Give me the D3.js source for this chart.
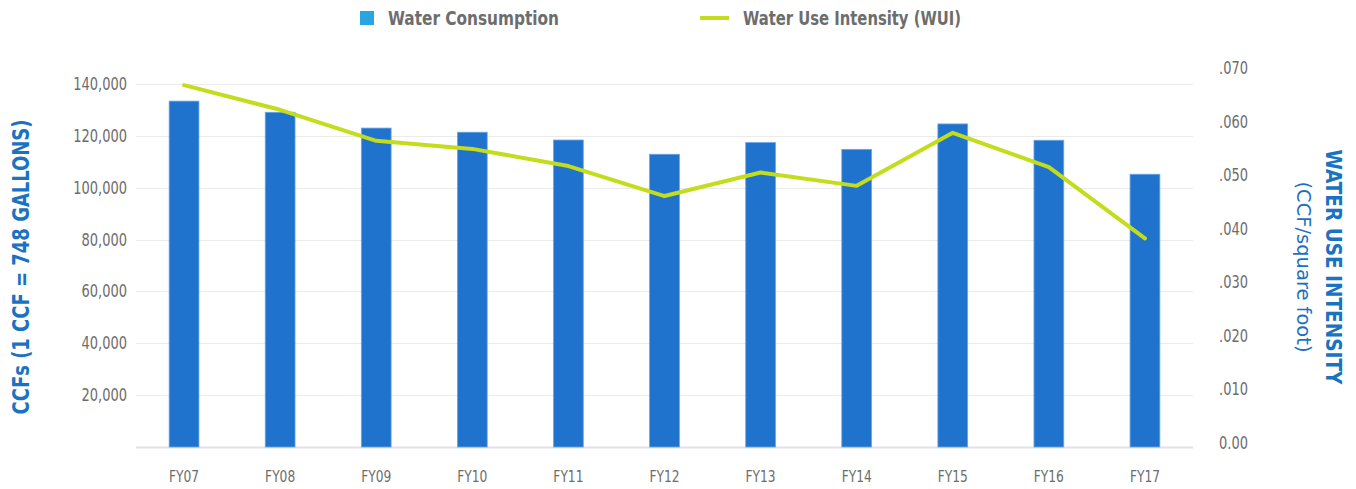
<!DOCTYPE html>
<html>
<head>
<meta charset="utf-8">
<script src="https://cdn.jsdelivr.net/npm/d3@7"></script>
<style>
  body { margin: 0; background: #fff; }
  text { font-family: "DejaVu Sans Condensed", "Liberation Sans", sans-serif; }
</style>
</head>
<body>
<div id="chart"></div>
<script>
// water consumption vs WUI

var years = ["FY07", "FY08", "FY09", "FY10", "FY11", "FY12", "FY13", "FY14", "FY15", "FY16", "FY17"]
var consumption = [133400, 129100, 123000, 121400, 118400, 112900, 117400, 114800, 124600, 118300, 105200]
var wui = [0.0668, 0.0622, 0.0564, 0.0549, 0.0517, 0.0461, 0.0505, 0.0480, 0.0579, 0.0515, 0.0382]

var leftTicks = [0, 20000, 40000, 60000, 80000, 100000, 120000, 140000]
var leftTickLabels = ["", "20,000", "40,000", "60,000", "80,000", "100,000", "120,000", "140,000"]
var rightTicks = [0, 0.01, 0.02, 0.03, 0.04, 0.05, 0.06, 0.07]
var rightTickLabels = ["0.00", ".010", ".020", ".030", ".040", ".050", ".060", ".070"]

var width = 1356
var height = 489

// squeeze text horizontally so it looks like the condensed face in the original
function condense(sel, f) {
    sel.each(function () {
        let len = this.getComputedTextLength()
        if (len > 0) {
            d3.select(this)
                .attr("textLength", len * f)
                .attr("lengthAdjust", "spacingAndGlyphs")
        }
    })
}

function fitTo(sel, len) {
    sel.attr("textLength", len).attr("lengthAdjust", "spacingAndGlyphs")
}

var svg = d3.select("#chart")
    .append("svg")
    .attr("width", width)
    .attr("height", height)

var x = d3.scaleBand()
    .domain(years)
    .range([136, 1193])
    .paddingInner(0.69)
    .paddingOuter(0.345)

var y = d3.scaleLinear().domain([0, 140000]).range([447, 84])
var yR = d3.scaleLinear().domain([0, 0.07]).range([443, 68])

// gridlines
svg.append("g")
    .selectAll("line")
    .data(leftTicks)
    .enter()
    .append("line")
    .attr("x1", 136)
    .attr("x2", 1193)
    .attr("y1", d => Math.round(y(d)) + 0.5)
    .attr("y2", d => Math.round(y(d)) + 0.5)
    .attr("stroke", d => d == 0 ? "#e2e2e2" : "#ebebeb")
    .attr("stroke-width", d => d == 0 ? 2 : 1)

// left tick labels
svg.append("g")
    .selectAll("text")
    .data(leftTicks)
    .enter()
    .append("text")
    .attr("x", 127)
    .attr("y", d => y(d))
    .attr("dy", "0.35em")
    .attr("text-anchor", "end")
    .attr("fill", "#6d6d6d")
    .style("font-size", "17px")
    .text((d, i) => leftTickLabels[i])
    .call(condense, 0.85)

// right tick labels
svg.append("g")
    .selectAll("text")
    .data(rightTicks)
    .enter()
    .append("text")
    .attr("x", 1219)
    .attr("y", d => yR(d))
    .attr("dy", "0.35em")
    .attr("fill", "#6d6d6d")
    .style("font-size", "17px")
    .text((d, i) => rightTickLabels[i])
    .call(condense, 0.85)

// bars
svg.append("g")
    .selectAll("rect")
    .data(consumption)
    .enter()
    .append("rect")
    .attr("x", (d, i) => x(years[i]))
    .attr("y", d => y(d))
    .attr("width", x.bandwidth())
    .attr("height", d => y(0) - y(d))
    .attr("fill", "#2073cc")
    .attr("stroke", "#6aa6e6")
    .attr("stroke-width", 0.8)

// x labels
svg.append("g")
    .selectAll("text")
    .data(years)
    .enter()
    .append("text")
    .attr("x", d => x(d) + x.bandwidth() / 2)
    .attr("y", 476)
    .attr("dy", "0.35em")
    .attr("text-anchor", "middle")
    .attr("fill", "#6d6d6d")
    .style("font-size", "16px")
    .text(d => d)
    .call(condense, 0.85)

// WUI line
var line = d3.line()
    .x((d, i) => x(years[i]) + x.bandwidth() / 2)
    .y(d => yR(d))

svg.append("path")
    .datum(wui)
    .attr("d", line)
    .attr("fill", "none")
    .attr("stroke", "#c3dc1b")
    .attr("stroke-width", 4)
    .attr("stroke-linejoin", "round")
    .attr("stroke-linecap", "round")

// axis titles
svg.append("text")
    .attr("transform", "translate(29,267) rotate(-90)")
    .attr("text-anchor", "middle")
    .attr("fill", "#1a72c2")
    .style("font-size", "23px")
    .style("font-weight", "bold")
    .text("CCFs (1 CCF = 748 GALLONS)")
    .call(fitTo, 295)

svg.append("text")
    .attr("transform", "translate(1326,267) rotate(90)")
    .attr("text-anchor", "middle")
    .attr("fill", "#1a72c2")
    .style("font-size", "22px")
    .style("font-weight", "bold")
    .text("WATER USE INTENSITY")
    .call(fitTo, 235)

svg.append("text")
    .attr("transform", "translate(1297,267) rotate(90)")
    .attr("text-anchor", "middle")
    .attr("fill", "#1a72c2")
    .style("font-size", "20px")
    .text("(CCF/square foot)")
    .call(fitTo, 171)

// legend
const legend = svg.append("g")

legend.append("rect")
    .attr("x", 360)
    .attr("y", 11)
    .attr("width", 14)
    .attr("height", 14)
    .attr("fill", "#29a6e2")

legend.append("text")
    .attr("x", 388)
    .attr("y", 18)
    .attr("dy", "0.35em")
    .attr("fill", "#6d6d6d")
    .style("font-size", "19px")
    .style("font-weight", "bold")
    .text("Water Consumption")
    .call(fitTo, 171)

legend.append("line")
    .attr("x1", 700)
    .attr("x2", 729)
    .attr("y1", 18)
    .attr("y2", 18)
    .attr("stroke", "#c3dc1b")
    .attr("stroke-width", 4)

legend.append("text")
    .attr("x", 743)
    .attr("y", 18)
    .attr("dy", "0.35em")
    .attr("fill", "#6d6d6d")
    .style("font-size", "19px")
    .style("font-weight", "bold")
    .text("Water Use Intensity (WUI)")
    .call(fitTo, 218)
</script>
</body>
</html>
